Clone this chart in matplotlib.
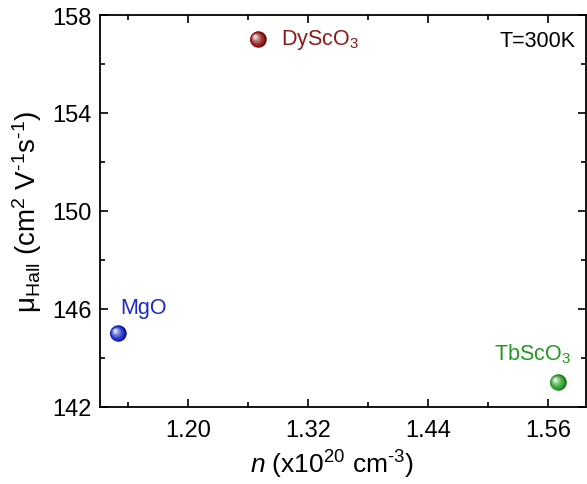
import matplotlib
matplotlib.use("Agg")
import matplotlib.pyplot as plt
import matplotlib.transforms as mtransforms
import numpy as np
from matplotlib.colors import to_rgb

plt.rcParams['font.family'] = ['Liberation Sans', 'DejaVu Sans']
plt.rcParams['mathtext.fontset'] = 'custom'
plt.rcParams['mathtext.rm'] = 'Liberation Sans'
plt.rcParams['mathtext.it'] = 'Liberation Sans:italic'

substrates = ['DyScO$_3$', 'MgO', 'TbScO$_3$']
carrier_n = [1.27, 1.13, 1.57]
mobility = [157.0, 145.0, 143.0]
colors = ['#8a0a0a', '#0a1cc0', '#1a9a1a']
label_colors = ['#8b1a1a', '#1a2ac8', '#1f9a1f']
label_offsets = [(17, 0), (2, 19), (-46, 21)]

xticks = [1.20, 1.32, 1.44, 1.56]
yticks = [142, 146, 150, 154, 158]

fig = plt.figure(figsize=(5.87, 4.85), dpi=100)
ax = fig.add_axes([0.170, 0.159, 0.828, 0.808])

for x, y, c in zip(carrier_n, mobility, colors):
    base = np.array(to_rgb(c))
    nlay = 10
    for i in range(nlay):
        f = i / (nlay - 1)
        size = (16.5 * (1 - 0.85 * f)) ** 2 / 1.39 ** 2
        col = np.clip(base + (np.array([1, 1, 1]) - base) * f ** 1.5 * 0.9, 0, 1)
        if i == 0:
            col = base * 0.75
        dx, dy = -3.2 * f, 3.2 * f
        tr = mtransforms.offset_copy(ax.transData, fig=fig, x=dx, y=dy, units='dots')
        ax.scatter([x], [y], s=size, color=col, transform=tr, zorder=3 + i,
                   linewidths=0)

for lab, x, y, lc, off in zip(substrates, carrier_n, mobility, label_colors,
                              label_offsets):
    ax.annotate(lab, (x, y), xytext=off, textcoords='offset points',
                color=lc, fontsize=15.5, ha='left', va='center')

ax.text(0.978, 0.935, 'T=300K', transform=ax.transAxes, ha='right', va='center',
        fontsize=15.5, color='black')

ax.set_xlim(1.112, 1.598)
ax.set_ylim(142, 158)
ax.set_xticks(xticks)
ax.set_xticklabels(['%.2f' % v for v in xticks])
ax.set_yticks(yticks)
ax.set_yticklabels(['%d' % v for v in yticks])
ax.set_xticks([1.14, 1.26, 1.38, 1.50], minor=True)
ax.set_yticks([144, 148, 152, 156], minor=True)
ax.tick_params(which='both', direction='in', top=True, right=True, width=1.2)
ax.tick_params(which='major', length=6, labelsize=17, pad=6)
ax.tick_params(axis='x', which='major', pad=9)
ax.tick_params(which='minor', length=3.5)
for sp in ax.spines.values():
    sp.set_linewidth(1.3)

ax.set_xlabel(r'$\it{n}$ (x10$^{20}$ cm$^{\text{-}3}$)', fontsize=19, labelpad=4)
ax.xaxis.set_label_coords(0.477, -0.105)
ax.set_ylabel(r'$\mathrm{\mu}_{\mathrm{Hall}}$ (cm$^{2}$ V$^{\text{-}1}$s$^{\text{-}1}$)',
              fontsize=20, labelpad=6)

fig.savefig('out.png', dpi=100)
